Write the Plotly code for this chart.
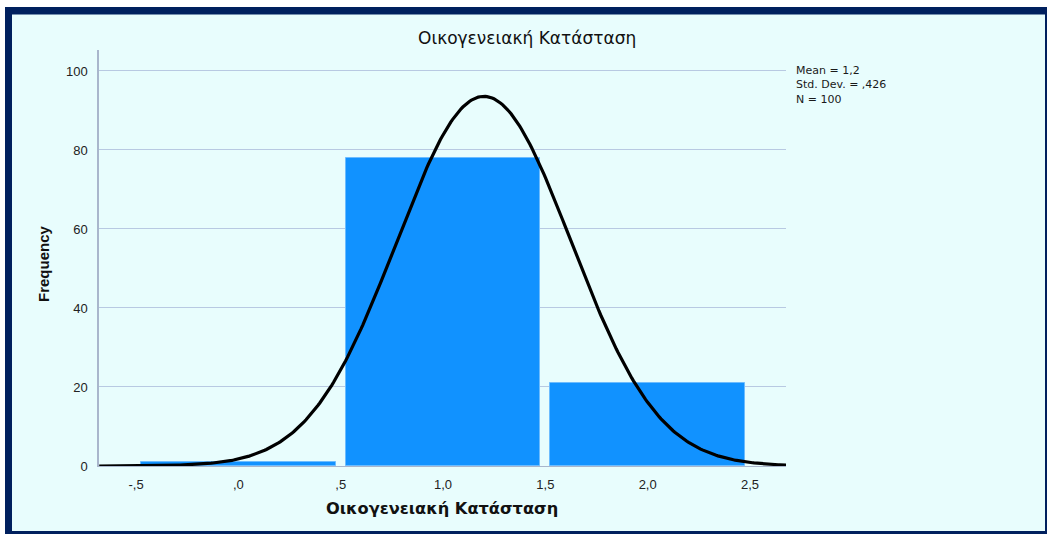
import numpy as np
import plotly.graph_objects as go

# ---- data ----
categories = [0, 1, 2]
frequencies = [1, 78, 21]
x_tick_vals = [-0.5, 0.0, 0.5, 1.0, 1.5, 2.0, 2.5]
x_tick_text = ["-,5", ",0", ",5", "1,0", "1,5", "2,0", "2,5"]
y_tick_vals = [0, 20, 40, 60, 80, 100]
title_text = "Οικογενειακή Κατάσταση"
stats_lines = ["Mean = 1,2", "Std. Dev. = ,426", "N = 100"]

# fitted normal curve from the data
vals = np.repeat(categories, frequencies).astype(float)
n = len(vals)
mean = vals.mean()
sd = vals.std(ddof=1)
xc = np.linspace(-0.68, 2.68, 400)
yc = n * 1.0 * np.exp(-0.5 * ((xc - mean) / sd) ** 2) / (sd * np.sqrt(2 * np.pi))

W, H = 1047, 534
L, R, T, B = 99, 786, 50, 466
ml, mr, mt, mb = L, W - R, T, H - B


def px(xpix):
    return (xpix - L) / (R - L)


def py(ypix):
    return 1 - (ypix - T) / (B - T)


fig = go.Figure()
fig.add_trace(go.Bar(x=categories, y=frequencies, width=0.95,
                     marker=dict(color="#1192ff", line=dict(color="#6cbcff", width=1)),
                     showlegend=False, hoverinfo="skip"))
fig.add_trace(go.Scatter(x=xc, y=yc, mode="lines",
                         line=dict(color="black", width=3.2), showlegend=False))

shapes = [
    dict(type="rect", xref="paper", yref="paper", x0=px(5), x1=px(1050), y0=py(7), y1=py(540),
         fillcolor="#00205e", line=dict(width=0), layer="below"),
    dict(type="rect", xref="paper", yref="paper", x0=px(12), x1=px(1045), y0=py(14.5), y1=py(531),
         fillcolor="#e8fdfd", line=dict(width=0), layer="below"),
]

annotations = [
    dict(text=title_text, xref="paper", yref="paper", x=px(527), y=py(38), showarrow=False,
         font=dict(family="DejaVu Sans, Verdana", size=17, color="#111"),
         xanchor="center", yanchor="middle"),
    dict(text="<br>".join(stats_lines), xref="paper", yref="paper", x=px(794), y=py(85),
         showarrow=False, xanchor="left", yanchor="middle", align="left",
         font=dict(family="DejaVu Sans, Verdana", size=11, color="#1a1a1a")),
    dict(text="<b>Οικογενειακή Κατάσταση</b>", xref="paper", yref="paper", x=px(442), y=py(508),
         showarrow=False, xanchor="center", yanchor="middle",
         font=dict(family="DejaVu Sans, Verdana", size=16.2, color="#111")),
    dict(text="<b>Frequency</b>", xref="paper", yref="paper", x=px(43), y=py(264),
         showarrow=False, xanchor="center", yanchor="middle", textangle=-90,
         font=dict(family="Liberation Sans, Arial", size=15, color="#111")),
]

fig.update_layout(
    width=W, height=H,
    margin=dict(l=ml, r=mr, t=mt, b=mb, pad=0),
    paper_bgcolor="white",
    plot_bgcolor="rgba(0,0,0,0)",
    shapes=shapes,
    annotations=annotations,
    bargap=0,
    xaxis=dict(range=[-0.681, 2.676], tickvals=x_tick_vals, ticktext=x_tick_text,
               showgrid=False, zeroline=False, showline=True, linecolor="#a9b6cc", linewidth=1,
               ticks="", ticklabelstandoff=6,
               tickfont=dict(family="Liberation Sans, Arial", size=13, color="#222")),
    yaxis=dict(range=[0, 105.3], tickvals=y_tick_vals, showgrid=True, gridcolor="#b8c9e2",
               gridwidth=1, zeroline=False, showline=True, linecolor="#a9b6cc", linewidth=1.5,
               ticks="", ticklabelstandoff=7,
               tickfont=dict(family="Liberation Sans, Arial", size=13, color="#222")),
)

fig.write_html("out.html", config={"displayModeBar": False},
               post_script="document.body.style.margin='0px';")
